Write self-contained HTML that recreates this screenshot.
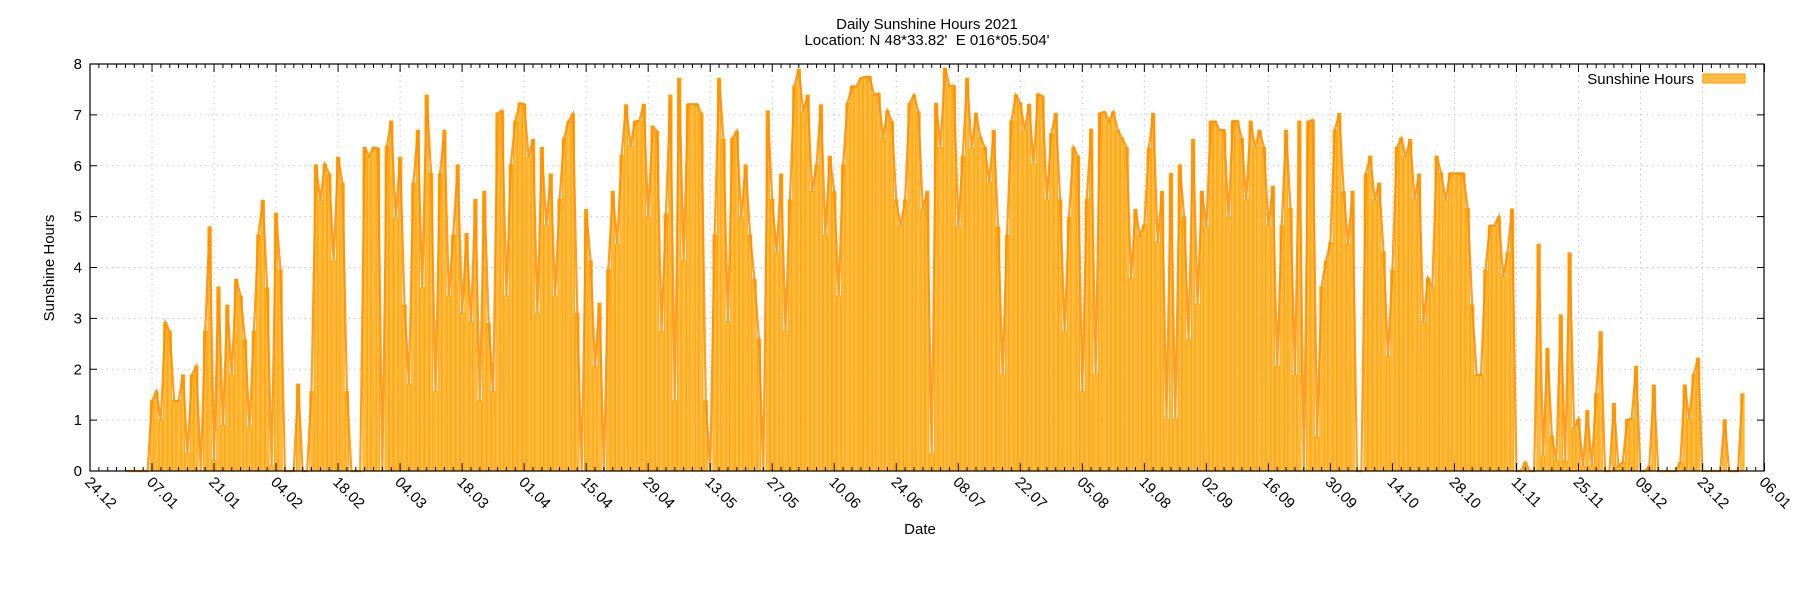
<!DOCTYPE html>
<html><head><meta charset="utf-8"><style>
html,body{margin:0;padding:0;background:#fff;}
svg{display:block;font-family:"Liberation Sans",sans-serif;}
</style></head><body>
<svg id="c" width="1800" height="600" xmlns="http://www.w3.org/2000/svg">
<rect width="1800" height="600" fill="#fff"/>
<text x="927" y="29" font-size="15" text-anchor="middle">Daily Sunshine Hours 2021</text>
<text x="927" y="45" font-size="15" text-anchor="middle" xml:space="preserve">Location: N 48*33.82'  E 016*05.504'</text>
<text transform="translate(54,268) rotate(-90)" font-size="15" text-anchor="middle">Sunshine Hours</text>
<text x="920" y="534" font-size="15" text-anchor="middle">Date</text>
<g id="grid"></g>
<g id="bars"></g>
<g id="axes"></g>
<text x="1694" y="84" font-size="15" text-anchor="end">Sunshine Hours</text>
<rect x="1703" y="74" width="42" height="9" fill="#ffbb44" stroke="#ff9900" stroke-width="1"/>
</svg>
<script>
var NS="http://www.w3.org/2000/svg";
function el(p,t,a,txt){var e=document.createElementNS(NS,t);for(var k in a)e.setAttribute(k,a[k]);if(txt!=null)e.textContent=txt;p.appendChild(e);return e;}
var L=90,R=1764,T=64,B=471,U=(B-T)/8,DX=4.43;
var grid=document.getElementById('grid'),axes=document.getElementById('axes'),bars=document.getElementById('bars');
var labels=["24.12","07.01","21.01","04.02","18.02","04.03","18.03","01.04","15.04","29.04","13.05","27.05","10.06","24.06","08.07","22.07","05.08","19.08","02.09","16.09","30.09","14.10","28.10","11.11","25.11","09.12","23.12","06.01"];
for(var v=0;v<=8;v++){var y=T+(8-v)*U;
 if(v>0&&v<8)el(grid,'line',{x1:L,x2:R,y1:y,y2:y,stroke:'#c8c8c8','stroke-width':1,'stroke-dasharray':'1.5,4'});
 el(axes,'line',{x1:L,x2:L+7,y1:y,y2:y,stroke:'#000','stroke-width':1});
 el(axes,'line',{x1:R-7,x2:R,y1:y,y2:y,stroke:'#000','stroke-width':1});
 el(axes,'text',{x:82,y:y+5,'font-size':15,'text-anchor':'end'},String(v));}
for(var d=0;d<=378;d+=2){var x=L+d*DX;var maj=(d%14==0);var len=maj?8:4;
 el(axes,'line',{x1:x,x2:x,y1:B,y2:B-len,stroke:'#000','stroke-width':1});
 el(axes,'line',{x1:x,x2:x,y1:T,y2:T+len,stroke:'#000','stroke-width':1});
 if(maj){var k=d/14;
  if(k>0&&k<27)el(grid,'line',{x1:x,x2:x,y1:T,y2:B,stroke:'#c8c8c8','stroke-width':1,'stroke-dasharray':'1.5,4'});
  el(axes,'text',{transform:'translate('+(x-6)+',483) rotate(45)','font-size':15},labels[k]);}}
el(axes,'rect',{x:L,y:T,width:R-L,height:B-T,fill:'none',stroke:'#000','stroke-width':1.2});
var data=[0,0,0,0,0,0,
1.38,1.56,1.0,2.92,2.75,1.38,1.38,1.89,0.35,1.89,
2.06,0,2.75,4.8,0.2,3.62,0.9,3.26,1.89,3.77,
3.44,2.58,0.87,2.75,4.64,5.32,3.6,0.1,5.07,3.95,
0,0,0,1.71,0,0,1.56,6.02,5.32,6.03,
5.84,4.13,6.17,5.66,1.56,0,0,0,6.36,6.19,
6.36,6.34,0,6.38,6.88,4.97,6.17,3.26,1.71,5.66,
6.7,3.6,7.39,5.85,1.56,5.84,6.7,3.44,4.64,6.02,
3.1,4.67,
2.92,5.34,1.38,5.5,2.9,1.56,7.03,7.08,3.44,6.02,
6.88,7.23,7.21,6.17,6.52,3.09,6.36,4.82,5.84,3.44,
5.34,6.54,6.87,7.02,3.1,0,5.14,4.13,2.06,3.3,
0,3.96,5.5,4.46,6.21,7.2,6.38,6.87,6.88,7.21,
4.99,6.77,6.68,2.75,5.05,7.39,1.38,7.72,4.13,7.21,
7.21,7.21,7.03,1.38,0,4.64,7.72,6.52,2.92,6.54,
6.68,4.99,6.02,4.64,3.77,2.6,0,7.08,5.34,4.29,
5.84,2.75,5.33,7.57,7.9,7.06,7.39,5.5,
6.02,7.2,4.64,6.19,5.49,3.44,6.02,7.23,7.56,7.56,
7.72,7.75,7.75,7.39,7.42,6.54,7.08,6.87,5.33,4.82,
5.33,7.23,7.39,7.06,5.14,5.5,0.33,7.23,6.36,7.92,
7.57,7.57,4.8,6.19,7.72,6.34,7.03,6.56,6.36,5.67,
6.7,4.8,1.89,4.64,6.88,7.39,7.23,6.7,7.21,6.02,
7.41,7.37,5.33,6.63,7.03,5.33,2.74,4.99,6.36,6.19,
1.56,5.34,6.72,1.89,7.03,7.06,6.88,7.06,6.7,6.54,
6.36,3.79,5.14,4.64,4.84,6.34,7.03,
4.49,5.5,1.02,5.85,1.02,6.02,4.99,2.58,6.52,3.28,
5.5,4.8,6.87,6.87,6.7,6.7,4.99,6.88,6.88,6.54,
5.33,6.88,6.36,6.7,6.36,4.82,5.6,2.06,4.82,6.7,
5.16,1.89,6.88,0,6.87,6.9,0.67,3.62,4.13,4.49,
6.7,7.03,5.49,4.46,5.5,0,0,5.84,6.19,5.33,
5.66,4.31,2.25,3.95,6.36,6.54,6.18,6.52,5.34,5.84,
2.92,3.79,3.6,6.19,5.85,5.33,5.85,5.85,5.85,5.85,
5.16,3.26,1.89,1.89,3.95,4.82,4.82,5.0,3.82,
4.29,5.15,0,0,0.17,0,0,4.46,0.3,2.41,
0.69,0.2,3.07,0.2,4.29,0.84,1.02,0.1,1.19,0.1,
1.52,2.74,0,0,1.33,0.1,0.17,1.01,1.03,2.06,
0,0,0.1,1.69,0,0,0,0,0,0.17,
1.69,1.02,1.9,2.22,0,0,0,0,0,1.01,
0,0,0,1.52];
var pts=[];var W=DX-0.9;
for(var i=0;i<data.length;i++){var cx=L+(8+i)*DX;var v=data[i];var y=B-v*U;
 if(v>0.02)el(bars,'rect',{x:(cx-W/2).toFixed(2),y:y.toFixed(2),width:W.toFixed(2),height:(B-y).toFixed(2),fill:'#ffbc40',stroke:'#ffa000','stroke-width':0.8});
 pts.push(cx.toFixed(2)+','+y.toFixed(2));}
el(bars,'polyline',{points:pts.join(' '),fill:'none',stroke:'#ff8c00','stroke-width':2.2,'stroke-opacity':0.85,'stroke-linejoin':'miter'});
</script>
</body></html>
